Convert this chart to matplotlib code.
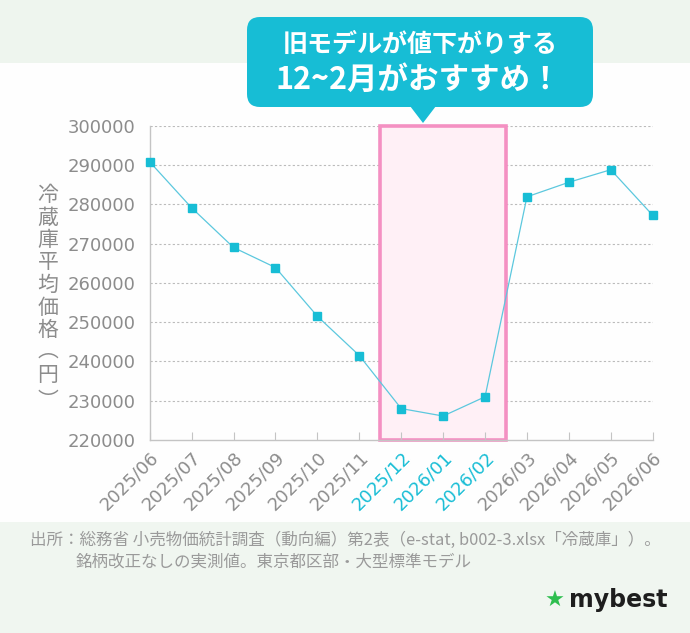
import matplotlib
matplotlib.use("Agg")
import matplotlib.pyplot as plt
import matplotlib.transforms as mtransforms
from matplotlib.patches import Rectangle, FancyBboxPatch, Polygon

plt.rcParams['font.family'] = ['Noto Sans CJK JP', 'DejaVu Sans']

months = ['2025/06', '2025/07', '2025/08', '2025/09', '2025/10', '2025/11',
          '2025/12', '2026/01', '2026/02', '2026/03', '2026/04', '2026/05', '2026/06']
prices = [290800, 279100, 269000, 263900, 251500, 241500,
          228000, 226100, 231000, 281900, 285600, 288800, 277200]
highlight = ['2025/12', '2026/01', '2026/02']
yticks = [220000, 230000, 240000, 250000, 260000, 270000, 280000, 290000, 300000]
ylabel_chars = ['冷', '蔵', '庫', '平', '均', '価', '格', '︵', '円', '︶']

cyan = '#17bdd5'
gray = '#8c8c8c'
W, H = 690, 633

fig = plt.figure(figsize=(W / 100, H / 100), dpi=100)

# background / decoration layer in pixel coordinates
bg = fig.add_axes([0, 0, 1, 1], zorder=0)
bg.set_xlim(0, W)
bg.set_ylim(H, 0)
bg.axis('off')
bg.add_patch(Rectangle((0, 0), W, H, facecolor='#fefefe', edgecolor='none'))
bg.add_patch(Rectangle((0, 0), W, 63, facecolor='#eef5ee', edgecolor='none'))
bg.add_patch(Rectangle((0, 522), W, H - 522, facecolor='#f0f6f0', edgecolor='none'))

# callout bubble
bg.add_patch(FancyBboxPatch((259, 29), 322, 66, boxstyle='round,pad=12,rounding_size=13',
                            facecolor=cyan, edgecolor='none'))
bg.add_patch(Polygon([(410, 106), (436, 106), (423, 123)], closed=True,
                     facecolor=cyan, edgecolor='none'))
bg.text(420, 45, '旧モデルが値下がりする', color='white', fontsize=18, fontweight='bold',
        ha='center', va='center')
bg.text(418, 80, '12~2月がおすすめ！', color='white', fontsize=22, fontweight='bold',
        ha='center', va='center')

# vertical y label (the vertical bracket glyphs sit off-centre in their em box)
ys = [195, 217.5, 240, 262.5, 285, 307.5, 330, 351, 375, 401]
for ch, yy in zip(ylabel_chars, ys):
    bg.text(48, yy, ch, color=gray, fontsize=15, ha='center', va='center')

# footnote
bg.text(30, 540, '出所：総務省 小売物価統計調査（動向編）第2表（e-stat, b002-3.xlsx「冷蔵庫」）。',
        color='#9a9a9a', fontsize=11.9, ha='left', va='center')
bg.text(76, 562, '銘柄改正なしの実測値。東京都区部・大型標準モデル',
        color='#9a9a9a', fontsize=11.9, ha='left', va='center')

# logo
bg.text(555, 601, '★', color='#2dbe4e', fontsize=16, ha='center', va='center',
        family=['DejaVu Sans'])
bg.text(569, 600, 'mybest', color='#1e1e1e', fontsize=17, fontweight='bold',
        ha='left', va='center', family=['DejaVu Sans'])

# main chart
ax = fig.add_axes([149.7 / W, 1 - 440 / H, (652.7 - 149.7) / W, (440 - 125.7) / H], zorder=1)
ax.set_facecolor('none')
x = list(range(len(months)))

i0 = months.index(highlight[0])
i1 = months.index(highlight[-1])
ax.add_patch(Rectangle((i0 - 0.5, yticks[0]), i1 - i0 + 1, yticks[-1] - yticks[0],
                       facecolor='#fff0f6', edgecolor='#f490c2', lw=2.6, zorder=1,
                       clip_on=False))

ax.plot(x, prices, color='#5cc8de', lw=0.9, marker='s', markersize=5.5,
        markerfacecolor=cyan, markeredgecolor=cyan, zorder=3, clip_on=False)

ax.set_xlim(0, len(months) - 1)
ax.set_ylim(yticks[0], yticks[-1])
ax.set_yticks(yticks)
ax.set_yticklabels([str(v) for v in yticks], family=['DejaVu Sans'])
ax.set_xticks(x)
ax.set_xticklabels(months, rotation=45, ha='right', rotation_mode='anchor',
                   family=['DejaVu Sans'])
shift = mtransforms.ScaledTranslation(3 / 100, -2 / 100, fig.dpi_scale_trans)
for lab in ax.get_xticklabels():
    lab.set_color(cyan if lab.get_text() in highlight else gray)
    lab.set_transform(lab.get_transform() + shift)

ax.tick_params(axis='y', length=0, pad=10, labelsize=13, labelcolor=gray)
ax.tick_params(axis='x', direction='in', length=6, color='#c4c4c4', pad=6, labelsize=13)

for v in yticks[1:]:
    ax.axhline(v, color='#bbbbbb', lw=0.8, ls=(0, (2, 2)), zorder=0.5)

for s in ['top', 'right']:
    ax.spines[s].set_visible(False)
for s in ['left', 'bottom']:
    ax.spines[s].set_color('#c4c4c4')
    ax.spines[s].set_linewidth(1)

fig.savefig('out.png', dpi=100)
